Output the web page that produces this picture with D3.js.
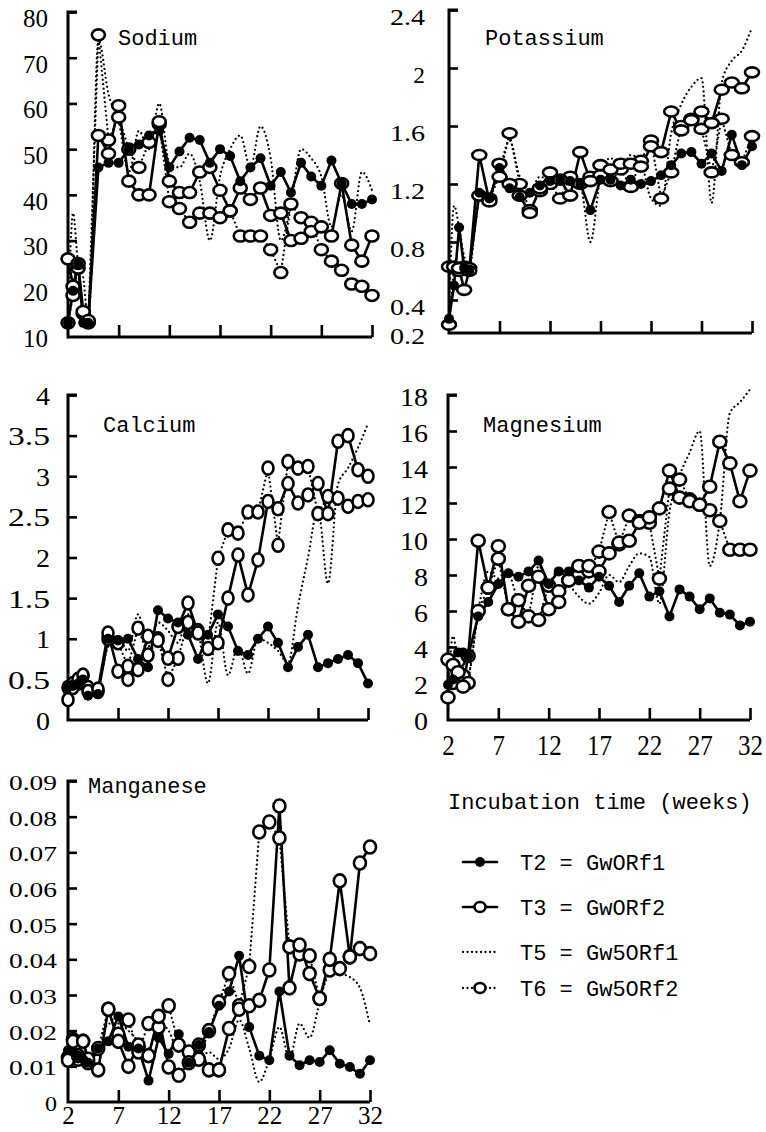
<!DOCTYPE html>
<html>
<head>
<meta charset="utf-8">
<script src="https://cdn.jsdelivr.net/npm/d3@7"></script>
<style>
body { margin: 0; background: #fff; }
</style>
</head>
<body>
<svg id="chart" width="766" height="1132"></svg>
<script>
// sampling weeks (half-weekly at the start, then weekly)
var weeks = [2, 2.5, 3, 3.5, 4, 5, 6, 7, 8, 9, 10, 11, 12, 13, 14, 15, 16, 17, 18, 19, 20, 21, 22, 23, 24, 25, 26, 27, 28, 29, 30, 31, 32];
var xTickWeeks = [7, 12, 17, 22, 27, 32];
var xLabelWeeks = [2, 7, 12, 17, 22, 27, 32];

// Sodium
var naTicks = [10, 20, 30, 40, 50, 60, 70, 80];
var naT2 = [12, 19, 25, 12, 12, 46, 47, 47, 50, 51, 53, 54, 46, 49.5, 52.5, 52, 47, 50, 48.5, 43, 46, 48, 42, 45, 40.5, 47, 44, 42, 47.5, 42.5, 38, 38, 39];
var naT3 = [26, 20, 25, 14.5, 12.5, 53, 49, 59.5, 43, 40, 40, 56, 43, 40.5, 40.5, 45, 46, 41, 36.5, 41.5, 39, 41.5, 35.5, 36, 30, 30.5, 32, 33, 31, 42.5, 29, 25.5, 31];
var naT5 = [12, 36, 25, 22, 12, 74, 62, 56, 45, 54, 50, 60, 47, 46, 49, 43, 30, 44, 50, 53, 46, 55, 48, 30, 38, 50, 48, 44, 33, 40, 32, 45, 41];
var naT6 = [12, 18, 24, 14, 12, 75, 52, 57, 50, 46, 51.5, 55.5, 38.5, 37, 34, 36, 36, 35, 36.5, 31, 31, 31, 28, 23, 38, 35, 34, 28, 25.5, 23.5, 20.5, 20, 18];

// Potassium
var kTicks = [0.2, 0.4, 0.8, 1.2, 1.6, 2, 2.4];
var kT2 = [0.27, 0.5, 0.9, 0.62, 0.6, 1.14, 1.1, 1.31, 1.17, 1.11, 1.14, 1.19, 1.22, 1.23, 1.22, 1.2, 1.02, 1.23, 1.23, 1.19, 1.23, 1.2, 1.22, 1.26, 1.33, 1.41, 1.42, 1.34, 1.41, 1.29, 1.54, 1.33, 1.46];
var kT3 = [0.63, 0.63, 0.62, 0.47, 0.6, 1.4, 1.08, 1.34, 1.2, 1.12, 1.0, 1.17, 1.28, 1.23, 1.12, 1.42, 1.22, 1.33, 1.3, 1.34, 1.34, 1.32, 1.46, 1.42, 1.7, 1.57, 1.64, 1.7, 1.62, 1.85, 1.9, 1.86, 1.97];
var kT5 = [0.3, 1.05, 0.9, 0.7, 0.62, 1.1, 1.12, 1.3, 1.5, 1.25, 1.15, 1.25, 1.22, 1.2, 1.25, 1.2, 0.8, 1.25, 1.38, 1.3, 1.4, 1.35, 1.1, 1.05, 1.55, 1.75, 1.87, 1.93, 1.07, 1.9, 2.05, 2.12, 2.28];
var kT6 = [0.23, 0.62, 0.6, 0.63, 0.62, 1.12, 1.1, 1.25, 1.55, 1.2, 1.02, 1.15, 1.2, 1.1, 1.25, 1.2, 1.25, 1.26, 1.22, 1.3, 1.18, 1.36, 1.5, 1.1, 1.28, 1.6, 1.65, 1.58, 1.28, 1.65, 1.4, 1.35, 1.53];

// Calcium
var caTicks = [0, 0.5, 1, 1.5, 2, 2.5, 3, 3.5, 4];
var caT2 = [0.4, 0.42, 0.45, 0.5, 0.3, 0.32, 1.0, 0.98, 1.0, 0.75, 0.65, 1.35, 1.25, 1.2, 1.05, 0.75, 1.05, 1.3, 1.15, 0.85, 0.8, 1.0, 1.15, 0.95, 0.65, 0.9, 1.05, 0.65, 0.7, 0.75, 0.8, 0.7, 0.45];
var caT3 = [0.25, 0.4, 0.5, 0.55, 0.35, 0.38, 1.07, 0.6, 0.5, 0.62, 1.03, 0.98, 0.76, 1.15, 1.44, 1.07, 0.88, 0.95, 1.5, 2.03, 1.54, 1.97, 2.69, 2.6, 2.91, 2.67, 2.77, 2.91, 2.54, 3.43, 3.5, 3.08, 3.0];
var caT5 = [0.4, 0.4, 0.45, 0.45, 0.3, 0.4, 0.9, 1.0, 0.85, 1.3, 0.9, 1.2, 1.1, 0.95, 1.3, 1.1, 0.45, 1.2, 0.55, 0.9, 0.57, 1.0, 0.95, 0.85, 0.7, 1.4, 2.0, 2.6, 1.68, 2.9, 3.1, 3.35, 3.65];
var caT6 = [0.4, 0.45, 0.45, 0.55, 0.4, 0.35, 1.0, 0.95, 0.66, 1.13, 0.8, 1.0, 0.5, 0.76, 1.2, 1.1, 0.95, 1.99, 2.34, 2.3, 2.56, 2.56, 3.1, 2.15, 3.18, 3.1, 3.12, 2.54, 2.75, 2.73, 2.63, 2.69, 2.71];

// Magnesium
var mgTicks = [0, 2, 4, 6, 8, 10, 12, 14, 16, 18];
var mgT2 = [1.9, 2.2, 3.7, 3.7, 3.5, 5.7, 6.5, 7.5, 8.1, 7.9, 8.2, 8.8, 7.5, 8.2, 8.2, 7.7, 7.3, 7.9, 7.4, 6.5, 7.4, 8.1, 6.8, 7.1, 5.7, 7.2, 6.8, 6.1, 6.7, 5.9, 5.8, 5.2, 5.4];
var mgT3 = [3.3, 3.0, 2.6, 1.8, 3.5, 9.9, 7.3, 9.6, 6.1, 5.4, 7.4, 7.9, 6.1, 6.5, 7.7, 8.5, 8.5, 8.2, 9.2, 9.8, 9.9, 10.9, 11.2, 11.7, 13.8, 12.3, 12.1, 11.9, 12.9, 15.4, 14.2, 12.1, 13.8];
var mgT5 = [1.5, 4.6, 3.2, 2.8, 2.5, 6.0, 8.2, 7.8, 8.0, 6.5, 6.0, 8.5, 7.6, 8.3, 7.5, 6.8, 6.4, 7.0, 8.0, 7.6, 8.5, 9.2, 9.0, 6.4, 11.5, 13.5, 14.8, 16.0, 8.5, 11.0, 17.0, 17.6, 18.3];
var mgT6 = [1.2, 2.0, 3.2, 2.4, 2.0, 6.0, 7.3, 8.9, 6.1, 6.6, 5.7, 5.5, 7.4, 7.1, 7.7, 8.0, 8.2, 9.3, 11.5, 9.7, 11.3, 11.0, 10.9, 7.8, 12.8, 13.3, 12.2, 11.9, 11.6, 11.0, 9.4, 9.4, 9.4];

// Manganese
var mnTicks = [0, 0.01, 0.02, 0.03, 0.04, 0.05, 0.06, 0.07, 0.08, 0.09];
var mnT2 = [0.0145, 0.014, 0.013, 0.012, 0.011, 0.015, 0.017, 0.024, 0.0155, 0.015, 0.006, 0.018, 0.0135, 0.019, 0.011, 0.016, 0.0196, 0.027, 0.031, 0.041, 0.021, 0.013, 0.0117, 0.031, 0.013, 0.0103, 0.0117, 0.0112, 0.0145, 0.0107, 0.0098, 0.0079, 0.0117];
var mnT3 = [0.0117, 0.017, 0.013, 0.017, 0.012, 0.009, 0.026, 0.017, 0.01, 0.016, 0.013, 0.024, 0.0098, 0.0075, 0.011, 0.016, 0.009, 0.009, 0.0206, 0.026, 0.027, 0.0285, 0.037, 0.083, 0.032, 0.044, 0.036, 0.029, 0.04, 0.062, 0.0407, 0.067, 0.0715];
var mnT5 = [0.013, 0.014, 0.015, 0.013, 0.012, 0.014, 0.022, 0.022, 0.02, 0.017, 0.015, 0.022, 0.02, 0.014, 0.015, 0.012, 0.014, 0.012, 0.015, 0.023, 0.015, 0.0056, 0.012, 0.021, 0.012, 0.022, 0.018, 0.028, 0.037, 0.036, 0.035, 0.032, 0.0215];
var mnT6 = [0.0125, 0.0175, 0.012, 0.017, 0.011, 0.015, 0.026, 0.019, 0.023, 0.014, 0.022, 0.021, 0.027, 0.016, 0.014, 0.012, 0.02, 0.028, 0.036, 0.027, 0.038, 0.0757, 0.0785, 0.074, 0.0435, 0.0415, 0.041, 0.029, 0.037, 0.0374, 0.0407, 0.043, 0.0416];

var legendNames = ["T2 = GwORf1", "T3 = GwORf2", "T5 = Gw5ORf1", "T6 = Gw5ORf2"];

var MONO = "'Liberation Mono', 'DejaVu Sans Mono', monospace";
var SERIF = "'Liberation Serif', 'DejaVu Serif', serif";
var svg = d3.select("#chart");
svg.append("rect").attr("width", 766).attr("height", 1132).attr("fill", "#fff");

// layout of the five panels; fs/adv = tick label size and per-character width
var panels = [
    {title: "Sodium", tx: 118, ty: 45, t2: naT2, t3: naT3, t5: naT5, t6: naT6, ticks: naTicks,
     x0: 68, x1: 372, yTop: 12, yBot: 332, axisY: 337, pad: 20, fs: 26, adv: 12.5, dy: 6,
     rx: 6.5, ry: 5.5, xlab: false},
    {title: "Potassium", tx: 485, ty: 45, t2: kT2, t3: kT3, t5: kT5, t6: kT6, ticks: kTicks,
     x0: 449, x1: 752, yTop: 10, yBot: 329, axisY: 333, pad: 24, fs: 24, adv: 11.7, dy: 7,
     rx: 7, ry: 5, xlab: false},
    {title: "Calcium", tx: 103, ty: 432, t2: caT2, t3: caT3, t5: caT5, t6: caT6, ticks: caTicks,
     x0: 68, x1: 368, yTop: 395, yBot: 720, axisY: 720, pad: 18, fs: 25, adv: 14, dy: 1,
     rx: 5.5, ry: 6.5, xlab: false},
    {title: "Magnesium", tx: 483, ty: 432, t2: mgT2, t3: mgT3, t5: mgT5, t6: mgT6, ticks: mgTicks,
     x0: 448, x1: 750, yTop: 395, yBot: 719, axisY: 720, pad: 20, fs: 25, adv: 14, dy: 2,
     rx: 6.5, ry: 6, xlab: true, xpad: 14, xfs: 29},
    {title: "Manganese", tx: 88, ty: 793, t2: mnT2, t3: mnT3, t5: mnT5, t6: mnT6, ticks: mnTicks,
     x0: 68, x1: 370, yTop: 781, yBot: 1102, axisY: 1102, pad: 11, fs: 20, adv: 12, dy: 2,
     rx: 6, ry: 6.5, xlab: true, xpad: 4, xfs: 25}
];

function styleLabels(sel, size, adv) {
    sel.attr("font-size", size).attr("font-family", SERIF).attr("fill", "#000")
        .attr("textLength", function(d) { return String(d).length * adv; })
        .attr("lengthAdjust", "spacingAndGlyphs");
}

function drawPanel(p) {
    var g = svg.append("g");
    var ext = d3.extent(p.ticks);
    var x = d3.scaleLinear().domain([2, 32]).range([p.x0, p.x1]);
    var y = d3.scaleLinear().domain(ext).range([p.yBot, p.yTop]);

    // y axis: ticks pointing inward, labels on the left
    var yAxis = d3.axisLeft(y).tickValues(p.ticks).tickSizeInner(-9).tickSizeOuter(0)
        .tickPadding(p.pad).tickFormat(function(d) { return String(d); });
    var ya = g.append("g").attr("transform", "translate(" + p.x0 + ",0)").call(yAxis);
    ya.select(".domain").remove();
    ya.selectAll(".tick line").attr("stroke", "#000").attr("stroke-width", 2.6)
        .filter(function(d) { return d === ext[0]; }).remove();
    styleLabels(ya.selectAll(".tick text").attr("y", p.dy), p.fs, p.adv);

    // x axis
    var xAxis = d3.axisBottom(x).tickValues(p.xlab ? xLabelWeeks : xTickWeeks)
        .tickSizeInner(-12).tickSizeOuter(0).tickPadding(p.xpad || 10)
        .tickFormat(function(d) { return p.xlab ? String(d) : ""; });
    var xa = g.append("g").attr("transform", "translate(0," + p.axisY + ")").call(xAxis);
    xa.select(".domain").remove();
    xa.selectAll(".tick line").attr("stroke", "#000").attr("stroke-width", 2.6)
        .filter(function(d) { return d === 2; }).remove();
    if (p.xlab) styleLabels(xa.selectAll(".tick text"), p.xfs, 12.5);

    // axis lines
    g.append("path")
        .attr("d", "M" + (p.x0 + 9) + "," + y(ext[1]) + "H" + p.x0 + "V" + p.axisY + "H" + p.x1)
        .attr("fill", "none").attr("stroke", "#000").attr("stroke-width", 3)
        .attr("stroke-linejoin", "miter");

    g.append("text").attr("x", p.tx).attr("y", p.ty).text(p.title)
        .attr("font-family", MONO).attr("font-size", 22).attr("fill", "#000");

    var line = d3.line().x(function(d, i) { return x(weeks[i]); }).y(function(d) { return y(d); });
    var curved = d3.line().curve(d3.curveMonotoneX)
        .x(function(d, i) { return x(weeks[i]); }).y(function(d) { return y(d); });

    g.append("path").attr("d", curved(p.t5)).attr("class", "dotted");
    g.append("path").attr("d", line(p.t6)).attr("class", "dotted");
    g.append("path").attr("d", line(p.t3)).attr("class", "solid");
    g.append("path").attr("d", line(p.t2)).attr("class", "solid");

    g.selectAll(".dotted").attr("fill", "none").attr("stroke", "#000").attr("stroke-width", 2.3)
        .attr("stroke-linecap", "round").attr("stroke-dasharray", "0 4.5");
    g.selectAll(".solid").attr("fill", "none").attr("stroke", "#000").attr("stroke-width", 2.6)
        .attr("stroke-linejoin", "round");

    [p.t6, p.t3].forEach(function(s) {
        g.append("g").selectAll("ellipse").data(s).enter().append("ellipse")
            .attr("cx", function(d, i) { return x(weeks[i]); })
            .attr("cy", function(d) { return y(d); })
            .attr("rx", p.rx).attr("ry", p.ry)
            .attr("fill", "#fff").attr("stroke", "#000").attr("stroke-width", 2.6);
    });
    g.append("g").selectAll("circle").data(p.t2).enter().append("circle")
        .attr("cx", function(d, i) { return x(weeks[i]); })
        .attr("cy", function(d) { return y(d); })
        .attr("r", 5).attr("fill", "#000");
}

panels.forEach(drawPanel);

// legend
var lg = svg.append("g");
lg.append("text").attr("x", 448).attr("y", 809).text("Incubation time (weeks)")
    .attr("font-family", MONO).attr("font-size", 22).attr("fill", "#000");
var legendY = [862, 907, 952, 988];
legendNames.forEach(function(name, i) {
    var yy = legendY[i];
    var solid = (i < 2);
    lg.append("line").attr("x1", 463).attr("x2", 497).attr("y1", yy).attr("y2", yy)
        .attr("stroke", "#000").attr("stroke-width", solid ? 2.6 : 2.3)
        .attr("stroke-linecap", "round").attr("stroke-dasharray", solid ? null : "0 4.5");
    if (i === 0) {
        lg.append("circle").attr("cx", 480).attr("cy", yy).attr("r", 5).attr("fill", "#000");
    } else if (i === 1 || i === 3) {
        lg.append("ellipse").attr("cx", 480).attr("cy", yy).attr("rx", 5.5).attr("ry", 5)
            .attr("fill", "#fff").attr("stroke", "#000").attr("stroke-width", 2.6);
    }
    lg.append("text").attr("x", 520).attr("y", yy + 8).text(name)
        .attr("font-family", MONO).attr("font-size", 22).attr("fill", "#000");
});
</script>
</body>
</html>
